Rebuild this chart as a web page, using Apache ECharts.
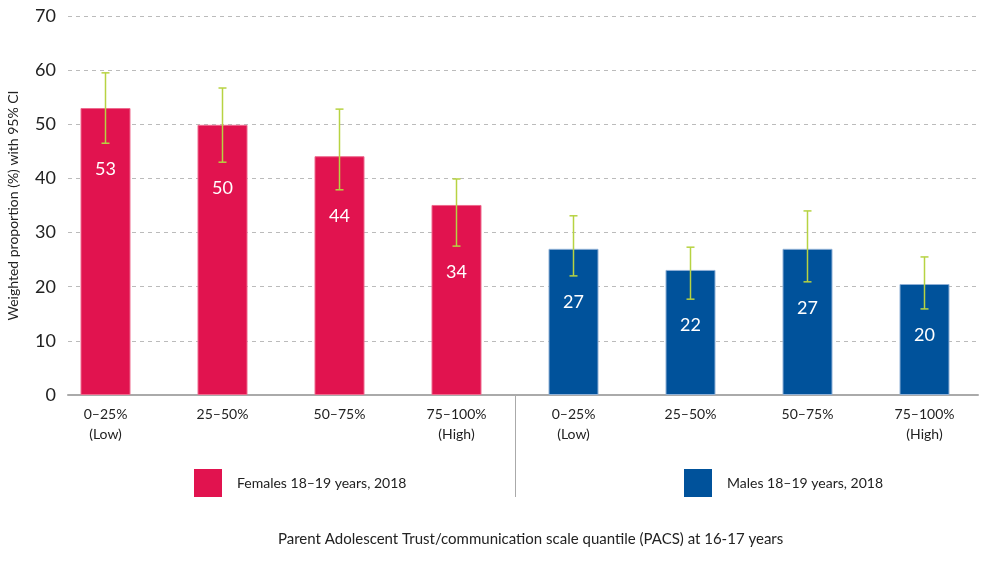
<!DOCTYPE html>
<html><head><meta charset="utf-8">
<script src="https://cdn.jsdelivr.net/npm/echarts@6/dist/echarts.min.js"></script>
<style>html,body{margin:0;padding:0;background:#fff}#c{width:983px;height:562px}</style>
</head><body><div id="c"></div>
<script>
var categories = ['0–25%\n(Low)', '25–50%', '50–75%', '75–100%\n(High)', '0–25%\n(Low)', '25–50%', '50–75%', '75–100%\n(High)'];
var femaleValues = [53.0, 49.9, 44.1, 35.1, null, null, null, null];
var maleValues = [null, null, null, null, 27.0, 23.1, 27.0, 20.5];
var barLabels = ['53', '50', '44', '34', '27', '22', '27', '20'];
var ciLow = [46.5, 43.0, 37.9, 27.5, 22.0, 17.7, 20.9, 15.9];
var ciHigh = [59.5, 56.7, 52.8, 39.9, 33.1, 27.3, 34.0, 25.5];
var yTicks = [0, 10, 20, 30, 40, 50, 60, 70];
var femaleName = 'Females 18–19 years, 2018';
var maleName = 'Males 18–19 years, 2018';
var xTitle = 'Parent Adolescent Trust/communication scale quantile (PACS) at 16-17 years';
var yTitle = 'Weighted proportion (%) with 95% CI';

var FONT = 'Lato';
var chart = echarts.init(document.getElementById('c'));
var ciData = categories.map(function (c, i) { return [i, ciLow[i], ciHigh[i], barLabels[i]]; });

chart.setOption({
  animation: false,
  textStyle: { fontFamily: FONT },
  title: { text: xTitle, left: 278, top: 532, padding: 0, textStyle: { fontFamily: FONT, fontSize: 15, fontWeight: 'normal', color: '#222' } },
  legend: [
    { data: [femaleName], left: 194, top: 469, padding: 0, itemWidth: 28, itemHeight: 28, icon: 'rect',
      itemStyle: { borderWidth: 0 },
      textStyle: { fontFamily: FONT, fontSize: 14, color: '#222', padding: [0, 0, 0, 10] } },
    { data: [maleName], left: 684, top: 469, padding: 0, itemWidth: 28, itemHeight: 28, icon: 'rect',
      itemStyle: { borderWidth: 0 },
      textStyle: { fontFamily: FONT, fontSize: 14, color: '#222', padding: [0, 0, 0, 10] } }
  ],
  grid: [
    { left: 68, right: 5, top: 16, bottom: 167, outerBoundsMode: 'none', containLabel: false },
    { left: 47, right: 0, top: 16, bottom: 167, outerBoundsMode: 'none', containLabel: false }
  ],
  xAxis: [
    { gridIndex: 0, type: 'category', data: categories, axisLabel: { show: false }, axisTick: { show: false },
      axisLine: { show: true, lineStyle: { color: '#AAAAAA', width: 2 } } },
    { gridIndex: 1, type: 'category', data: categories,
      axisLine: { show: false }, axisTick: { show: false },
      axisLabel: { fontFamily: FONT, fontSize: 14, color: '#222', margin: 9, lineHeight: 20, interval: 0 } }
  ],
  yAxis: [
    { gridIndex: 0, type: 'value', min: yTicks[0], max: yTicks[yTicks.length - 1], interval: 10,
      name: yTitle, nameLocation: 'middle', nameGap: 48,
      nameTextStyle: { fontFamily: FONT, fontSize: 14, color: '#222' },
      axisLine: { show: false }, axisTick: { show: false },
      axisLabel: { fontFamily: FONT, fontSize: 18, color: '#222', margin: 12 },
      splitLine: { show: true, lineStyle: { color: '#BBBBBB', type: [4, 4], width: 1 } } },
    { gridIndex: 1, type: 'value', min: yTicks[0], max: yTicks[yTicks.length - 1], interval: 10,
      axisLine: { show: false }, axisTick: { show: false }, axisLabel: { show: false }, splitLine: { show: false } }
  ],
  series: [
    { name: femaleName, type: 'bar', xAxisIndex: 1, yAxisIndex: 1, stack: 'all', barWidth: 50, data: femaleValues,
      itemStyle: { color: '#E1134F', borderColor: '#EE6A8E', borderWidth: 1 } },
    { name: maleName, type: 'bar', xAxisIndex: 1, yAxisIndex: 1, stack: 'all', barWidth: 50, data: maleValues,
      itemStyle: { color: '#00529B', borderColor: '#8FB0D6', borderWidth: 1 } },
    { name: 'ci', type: 'custom', xAxisIndex: 1, yAxisIndex: 1, data: ciData, z: 10,
      renderItem: function (params, api) {
        var x = api.value(0);
        var lo = api.coord([x, api.value(1)]);
        var hi = api.coord([x, api.value(2)]);
        var cap = 4;
        var st = { stroke: '#B7D342', lineWidth: 1.5 };
        return { type: 'group', children: [
          { type: 'line', shape: { x1: hi[0], y1: hi[1], x2: lo[0], y2: lo[1] }, style: st },
          { type: 'line', shape: { x1: hi[0] - cap, y1: hi[1], x2: hi[0] + cap, y2: hi[1] }, style: st },
          { type: 'line', shape: { x1: lo[0] - cap, y1: lo[1], x2: lo[0] + cap, y2: lo[1] }, style: st },
          { type: 'text', style: { text: barLabels[params.dataIndex], x: lo[0], y: lo[1] + 26, align: 'center', verticalAlign: 'middle',
              fill: '#FFFFFF', fontFamily: FONT, fontSize: 18 } }
        ] };
      }
    }
  ],
  graphic: [
    { type: 'line', shape: { x1: 515.5, y1: 395, x2: 515.5, y2: 497 }, style: { stroke: '#AAAAAA', lineWidth: 1 } }
  ]
});
</script></body></html>
